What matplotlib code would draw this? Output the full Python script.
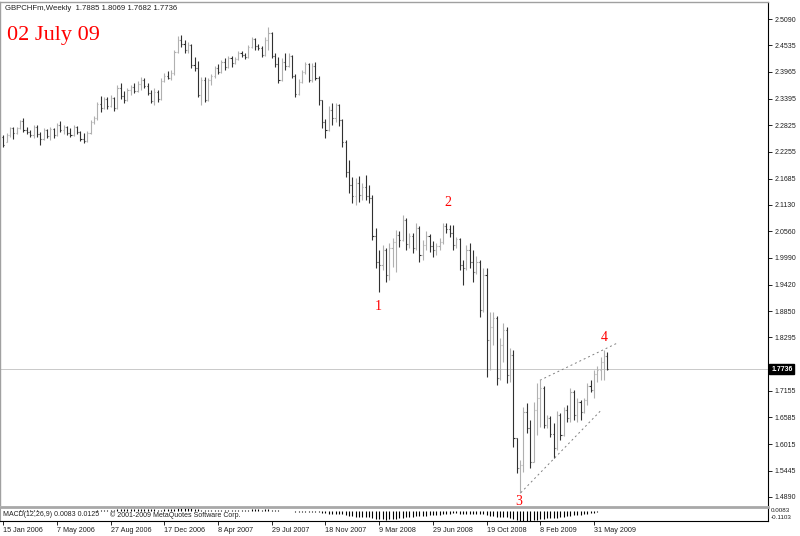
import numpy as np
import pandas as pd
import matplotlib
matplotlib.use("Agg")
import matplotlib.pyplot as plt
from matplotlib.lines import Line2D

# ---------------- data ----------------
header_text = "GBPCHFm,Weekly  1.7885 1.8069 1.7682 1.7736"
date_title = "02 July 09"
last_price_text = "1.7736"
macd_text = "MACD(12,26,9) 0.0083 0.0125"
copyright_text = "\u00a9 2001-2009 MetaQuotes Software Corp."

opens = [2.2575, 2.2468, 2.2618, 2.2768, 2.2661, 2.2768, 2.2917, 2.2725, 2.2682, 2.2618,
         2.2789, 2.2639, 2.2533, 2.2725, 2.2597, 2.2746, 2.2618, 2.2832, 2.2725, 2.2789,
         2.2661, 2.2618, 2.2789, 2.2682, 2.2533, 2.2490, 2.2661, 2.2896, 2.2981, 2.3280,
         2.3195, 2.3387, 2.3238, 2.3408, 2.3195, 2.3622, 2.3451, 2.3366, 2.3579, 2.3643,
         2.3558, 2.3708, 2.3793, 2.3665, 2.3515, 2.3344, 2.3537, 2.3387, 2.3772, 2.3878,
         2.3836, 2.3943, 2.4391, 2.4648, 2.4562, 2.4434, 2.4541, 2.4113, 2.4049, 2.3473,
         2.3793, 2.3366, 2.3793, 2.3878, 2.4049, 2.3964, 2.4177, 2.4071, 2.4263, 2.4156,
         2.4242, 2.4370, 2.4327, 2.4284, 2.4498, 2.4669, 2.4519, 2.4476, 2.4327, 2.4648,
         2.4797, 2.4306, 2.4135, 2.3793, 2.4177, 2.4092, 2.4306, 2.3878, 2.3494, 2.3750,
         2.3964, 2.4135, 2.3793, 2.4092, 2.3836, 2.3366, 2.2896, 2.2725, 2.3152, 2.2981,
         2.3259, 2.2939, 2.2468, 2.1827, 2.1550, 2.1315, 2.1592, 2.1336, 2.1507, 2.1315,
         2.1272, 2.0460, 1.9905, 1.9841, 2.0161, 1.9627, 2.0204, 2.0332, 2.0482, 2.0375,
         2.0802, 2.0289, 2.0460, 2.0204, 2.0631, 2.0054, 2.0268, 2.0460, 2.0246, 2.0161,
         2.0246, 2.0332, 2.0674, 2.0610, 2.0524, 2.0268, 2.0396, 1.9841, 1.9777, 2.0161,
         1.9905, 1.9691, 1.9905, 1.8879, 1.9627, 1.8238, 1.8516, 1.8708, 1.7426, 1.8131,
         1.8452, 1.7490, 1.7917, 1.6144, 1.5503, 1.5567, 1.6699, 1.6358, 1.5631, 1.6742,
         1.6999, 1.7213, 1.6422, 1.6571, 1.6230, 1.5931, 1.6635, 1.6208, 1.6742, 1.6571,
         1.7127, 1.6635, 1.6913, 1.6699, 1.6956, 1.7255, 1.7170, 1.7511, 1.7597, 1.7768,
         1.7896]
highs = [2.2618, 2.2661, 2.2789, 2.2789, 2.2789, 2.2939, 2.2981, 2.2789, 2.2725, 2.2832,
         2.2832, 2.2682, 2.2768, 2.2746, 2.2789, 2.2768, 2.2874, 2.2917, 2.2832, 2.2810,
         2.2768, 2.2832, 2.2810, 2.2704, 2.2661, 2.2704, 2.2939, 2.3024, 2.3323, 2.3451,
         2.3430, 2.3430, 2.3473, 2.3430, 2.3686, 2.3729, 2.3558, 2.3622, 2.3686, 2.3729,
         2.3772, 2.3857, 2.3836, 2.3729, 2.3579, 2.3622, 2.3579, 2.3836, 2.3943, 2.3985,
         2.4007, 2.4434, 2.4733, 2.4754, 2.4648, 2.4605, 2.4562, 2.4284, 2.4199, 2.3857,
         2.3857, 2.3836, 2.3921, 2.4092, 2.4135, 2.4220, 2.4263, 2.4306, 2.4306, 2.4284,
         2.4412, 2.4412, 2.4370, 2.4541, 2.4711, 2.4690, 2.4562, 2.4519, 2.4711, 2.4925,
         2.4818, 2.4370, 2.4284, 2.4263, 2.4370, 2.4370, 2.4327, 2.3921, 2.3814, 2.4007,
         2.4177, 2.4156, 2.4156, 2.4177, 2.3878, 2.3366, 2.2960, 2.3238, 2.3302, 2.3302,
         2.3280, 2.2960, 2.2511, 2.2084, 2.1720, 2.1699, 2.1742, 2.1592, 2.1763, 2.1550,
         2.1336, 2.0631, 2.0161, 2.0268, 2.0204, 2.0311, 2.0418, 2.0588, 2.0567, 2.0909,
         2.0845, 2.0524, 2.0524, 2.0738, 2.0674, 2.0375, 2.0567, 2.0503, 2.0353, 2.0311,
         2.0418, 2.0738, 2.0738, 2.0695, 2.0695, 2.0439, 2.0418, 1.9947, 2.0268, 2.0311,
         2.0161, 2.0033, 1.9947, 1.9777, 1.9777, 1.8836, 1.8836, 1.8751, 1.8281, 1.8601,
         1.8516, 1.8067, 1.8024, 1.6144, 1.5674, 1.6806, 1.6892, 1.6529, 1.6913, 1.7319,
         1.7383, 1.7255, 1.6635, 1.6614, 1.6465, 1.6721, 1.6678, 1.6806, 1.6849, 1.7213,
         1.7170, 1.6999, 1.6956, 1.6999, 1.7319, 1.7383, 1.7597, 1.7682, 1.7875, 1.8024,
         1.7982]
lows = [2.2362, 2.2468, 2.2575, 2.2533, 2.2639, 2.2746, 2.2682, 2.2639, 2.2575, 2.2554,
        2.2575, 2.2404, 2.2511, 2.2554, 2.2511, 2.2554, 2.2597, 2.2682, 2.2639, 2.2618,
        2.2575, 2.2597, 2.2639, 2.2490, 2.2447, 2.2468, 2.2639, 2.2853, 2.2939, 2.3109,
        2.3173, 2.3173, 2.3216, 2.3131, 2.3173, 2.3387, 2.3302, 2.3344, 2.3473, 2.3515,
        2.3537, 2.3579, 2.3622, 2.3473, 2.3302, 2.3259, 2.3323, 2.3366, 2.3750, 2.3814,
        2.3793, 2.3900, 2.4370, 2.4498, 2.4370, 2.4370, 2.4049, 2.3985, 2.3430, 2.3259,
        2.3323, 2.3344, 2.3686, 2.3836, 2.3921, 2.3943, 2.4007, 2.4049, 2.4071, 2.4135,
        2.4220, 2.4284, 2.4242, 2.4263, 2.4476, 2.4434, 2.4434, 2.4284, 2.4306, 2.4434,
        2.4263, 2.4071, 2.3729, 2.3772, 2.4007, 2.4071, 2.3836, 2.3430, 2.3473, 2.3729,
        2.3921, 2.3750, 2.3750, 2.3793, 2.3259, 2.2768, 2.2554, 2.2704, 2.2832, 2.2896,
        2.2810, 2.2362, 2.1720, 2.1379, 2.1165, 2.1122, 2.1186, 2.1229, 2.1229, 2.1165,
        2.0375, 1.9777, 1.9264, 1.9734, 1.9477, 1.9520, 1.9798, 1.9691, 2.0225, 2.0353,
        2.0161, 2.0204, 2.0097, 2.0161, 1.9905, 1.9947, 2.0161, 2.0118, 2.0011, 2.0054,
        2.0161, 2.0289, 2.0524, 2.0439, 2.0161, 2.0204, 1.9734, 1.9413, 1.9734, 1.9777,
        1.9477, 1.9648, 1.8729, 1.8836, 1.7447, 1.7597, 1.8131, 1.7277, 1.7383, 1.7768,
        1.7319, 1.7341, 1.5952, 1.5396, 1.4969, 1.5418, 1.6251, 1.5503, 1.5631, 1.6208,
        1.6379, 1.6358, 1.6358, 1.6166, 1.5717, 1.5888, 1.6101, 1.6187, 1.6486, 1.6486,
        1.6529, 1.6486, 1.6529, 1.6678, 1.6849, 1.7127, 1.6999, 1.7341, 1.7383, 1.7383,
        1.7597]
closes = [2.2404, 2.2618, 2.2768, 2.2661, 2.2768, 2.2917, 2.2725, 2.2682, 2.2618, 2.2789,
          2.2639, 2.2533, 2.2725, 2.2597, 2.2746, 2.2618, 2.2832, 2.2725, 2.2789, 2.2661,
          2.2618, 2.2789, 2.2682, 2.2533, 2.2490, 2.2661, 2.2896, 2.2981, 2.3280, 2.3195,
          2.3387, 2.3238, 2.3408, 2.3195, 2.3622, 2.3451, 2.3366, 2.3579, 2.3643, 2.3558,
          2.3708, 2.3793, 2.3665, 2.3515, 2.3344, 2.3537, 2.3387, 2.3772, 2.3878, 2.3836,
          2.3943, 2.4391, 2.4648, 2.4562, 2.4434, 2.4541, 2.4113, 2.4049, 2.3473, 2.3793,
          2.3366, 2.3793, 2.3878, 2.4049, 2.3964, 2.4177, 2.4071, 2.4263, 2.4156, 2.4242,
          2.4370, 2.4327, 2.4284, 2.4498, 2.4669, 2.4519, 2.4476, 2.4327, 2.4648, 2.4797,
          2.4306, 2.4135, 2.3793, 2.4177, 2.4092, 2.4306, 2.3878, 2.3494, 2.3750, 2.3964,
          2.4135, 2.3793, 2.4092, 2.3836, 2.3366, 2.2896, 2.2725, 2.3152, 2.2981, 2.3259,
          2.2939, 2.2468, 2.1827, 2.1550, 2.1315, 2.1592, 2.1336, 2.1507, 2.1315, 2.1272,
          2.0460, 1.9905, 1.9841, 2.0161, 1.9627, 2.0204, 2.0332, 2.0482, 2.0375, 2.0802,
          2.0289, 2.0460, 2.0204, 2.0631, 2.0054, 2.0268, 2.0460, 2.0246, 2.0161, 2.0246,
          2.0332, 2.0674, 2.0610, 2.0524, 2.0268, 2.0396, 1.9841, 1.9777, 2.0161, 1.9905,
          1.9691, 1.9905, 1.8879, 1.9627, 1.8238, 1.8516, 1.8708, 1.7426, 1.8131, 1.8452,
          1.7490, 1.7917, 1.6144, 1.5503, 1.5567, 1.6699, 1.6358, 1.5631, 1.6742, 1.6999,
          1.7213, 1.6422, 1.6571, 1.6230, 1.5931, 1.6635, 1.6208, 1.6742, 1.6571, 1.7127,
          1.6635, 1.6913, 1.6699, 1.6956, 1.7255, 1.7170, 1.7511, 1.7597, 1.7768, 1.7896,
          1.7618]

date_tick_bars = [0, 16, 32, 48, 64, 80, 96, 112, 128, 144, 160, 176]
date_tick_labels = ["15 Jan 2006", "7 May 2006", "27 Aug 2006", "17 Dec 2006",
                    "8 Apr 2007", "29 Jul 2007", "18 Nov 2007", "9 Mar 2008",
                    "29 Jun 2008", "19 Oct 2008", "8 Feb 2009", "31 May 2009"]
price_ticks = [2.5090, 2.4535, 2.3965, 2.3395, 2.2825, 2.2255, 2.1685, 2.1130,
               2.0560, 1.9990, 1.9420, 1.8850, 1.8295, 1.7155, 1.6585, 1.6015,
               1.5445, 1.4890]

wave_labels = ["1", "2", "3", "4"]
wave_bar = [111.6, 132.5, 153.7, 179.0]
wave_price = [1.8964, 2.1186, 1.4777, 1.8302]

channel_upper_bar = [159.9, 182.8]
channel_upper_price = [1.7377, 1.8167]
channel_lower_bar = [154.2, 178.0]
channel_lower_price = [1.4975, 1.6727]

# ---------------- figure ----------------
W, H = 800, 536
fig = plt.figure(figsize=(W / 100, H / 100), dpi=100)
fig.patch.set_facecolor("white")


def fy(py):
    return 1 - py / H


AX_RIGHT = 768
ax = fig.add_axes([0, fy(505), AX_RIGHT / W, (505 - 2) / H])
axm = fig.add_axes([0, fy(521), AX_RIGHT / W, (521 - 508) / H])

o = np.array(opens)
h = np.array(highs)
l = np.array(lows)
c = np.array(closes)
idx = np.arange(len(c))
xmin = -3.3 / 3.356
xmax = (AX_RIGHT - 3.3) / 3.356

light = "#b0b0b0"
dark = "#303030"
cols = np.where(c >= o, light, dark)

LW = 0.8
ax.axhline(c[-1], color="#c0c0c0", lw=0.6, zorder=0)
ax.vlines(idx, l, h, colors=cols, linewidth=LW)
ax.hlines(o, idx - 0.33, idx, colors=cols, linewidth=LW)
ax.hlines(c, idx, idx + 0.33, colors=cols, linewidth=LW)

ax.plot(channel_upper_bar, channel_upper_price, color="#808080", lw=0.7,
        linestyle=(0, (2, 3)))
ax.plot(channel_lower_bar, channel_lower_price, color="#808080", lw=0.7,
        linestyle=(0, (2, 3)))

for s, xb, yp in zip(wave_labels, wave_bar, wave_price):
    ax.text(xb, yp, s, color="red", fontsize=10, family="Liberation Serif",
            ha="center", va="center", clip_on=True)

ax.set_xlim(xmin, xmax)
ax.set_ylim(2.55024 - 0.0021366 * 505, 2.55024 - 0.0021366 * 2)
ax.set_xticks([])
ax.yaxis.tick_right()
ax.set_yticks(price_ticks)
ax.set_yticklabels([f"{v:.4f}" for v in price_ticks], fontsize=5,
                   family="Liberation Sans", color="#202020")
ax.tick_params(axis="y", length=3, width=0.6, pad=1.5, color="black")
for sp in ["left", "top"]:
    ax.spines[sp].set_color("#a0a0a0")
    ax.spines[sp].set_linewidth(1.0)
ax.spines["right"].set_color("black")
ax.spines["right"].set_linewidth(0.8)
ax.spines["bottom"].set_visible(False)

ax.text(1.004, c[-1], last_price_text, transform=ax.get_yaxis_transform(),
        fontsize=5, family="Liberation Sans", color="white", fontweight="bold",
        ha="left", va="center", clip_on=False,
        bbox=dict(facecolor="black", edgecolor="black", pad=1.2))

# separator between windows
fig.add_artist(Line2D([0, AX_RIGHT / W], [fy(506.5), fy(506.5)],
                      transform=fig.transFigure, color="#a8a8a8", lw=2.0))

# ---------------- MACD sub-window ----------------
cs = pd.Series(c)
macd = (cs.ewm(span=12, adjust=False).mean() - cs.ewm(span=26, adjust=False).mean()).values
axm.vlines(idx, 0, macd, colors="black", linewidth=LW)
axm.set_xlim(xmin, xmax)
axm.set_ylim(macd.min(), macd.max())
axm.yaxis.tick_right()
axm.set_yticks([])
axm.set_xticks(date_tick_bars)
axm.set_xticklabels(date_tick_labels, fontsize=5.2, family="Liberation Sans",
                    color="#202020", ha="left")
axm.tick_params(axis="x", length=3, width=0.6, pad=1.5, color="black")
axm.spines["left"].set_color("#a0a0a0")
axm.spines["top"].set_visible(False)
axm.spines["right"].set_color("black")
axm.spines["right"].set_linewidth(0.8)
axm.spines["bottom"].set_color("black")
axm.spines["bottom"].set_linewidth(0.8)

fig.text(3 / W, fy(515), macd_text, fontsize=5, family="Liberation Sans",
         color="#202020", ha="left", va="center")
fig.text(110 / W, fy(515), copyright_text, fontsize=5, family="Liberation Sans",
         color="#202020", ha="left", va="center")
fig.text(771 / W, fy(511), "0.0083", fontsize=4.5, family="Liberation Sans",
         color="#202020", ha="left", va="center")
fig.text(771 / W, fy(517.5), "-0.1103", fontsize=4.5, family="Liberation Sans",
         color="#202020", ha="left", va="center")

# ---------------- titles ----------------
fig.text(5 / W, fy(9), header_text, fontsize=5.6, family="Liberation Sans",
         color="#202020", ha="left", va="center")
fig.text(7 / W, fy(40), date_title, fontsize=16, family="Liberation Serif",
         color="red", ha="left", va="baseline")

fig.savefig("out.png", dpi=100)
